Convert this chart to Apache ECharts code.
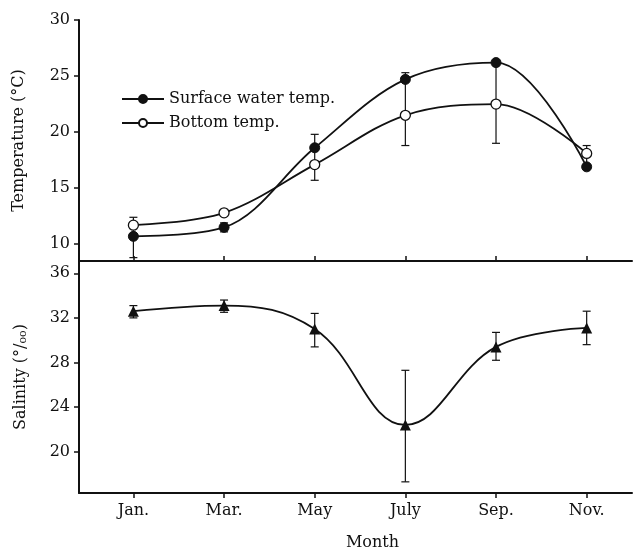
<!DOCTYPE html>
<html>
<head>
<meta charset="utf-8">
<script src="https://cdn.jsdelivr.net/npm/echarts@6/dist/echarts.min.js"></script>
<style>
    html, body { margin: 0; padding: 0; background: #fff; }
    #chartDiv { width: 638px; height: 554px; }
</style>
</head>
<body>
<div id="chartDiv"></div>
<script>
// Data
const months = [1, 3, 5, 7, 9, 11];
const monthLabels = ['Jan.', 'Mar.', 'May', 'July', 'Sep.', 'Nov.'];

const surfaceTemp = [10.7, 11.5, 18.6, 24.7, 26.2, 16.9];
const bottomTemp = [11.7, 12.8, 17.1, 21.5, 22.5, 18.1];
const tempErrLow = [8.8, 11.1, 15.7, 18.8, 19.0, 16.9];
const tempErrHigh = [12.4, 11.9, 19.8, 25.3, 26.2, 18.8];

const salinity = [32.6, 33.1, 31.0, 22.4, 29.4, 31.1];
const salErrLow = [32.0, 32.5, 29.4, 17.3, 28.2, 29.6];
const salErrHigh = [33.1, 33.6, 32.4, 27.3, 30.7, 32.6];

const tempTicks = [10, 15, 20, 25, 30];
const salTicks = [20, 24, 28, 32, 36];

const FONT = 'DejaVu Serif';
const INK = '#111';

function pairs(xs, ys) {
    return xs.map((x, i) => [x, ys[i]]);
}

function errorBar(params, api) {
    const x = api.value(0);
    const lo = api.coord([x, api.value(1)]);
    const hi = api.coord([x, api.value(2)]);
    const w = 4;
    const style = { stroke: INK, lineWidth: 1.2 };
    return {
        type: 'group',
        children: [
            { type: 'line', shape: { x1: hi[0], y1: hi[1], x2: lo[0], y2: lo[1] }, style: style },
            { type: 'line', shape: { x1: hi[0] - w, y1: hi[1], x2: hi[0] + w, y2: hi[1] }, style: style },
            { type: 'line', shape: { x1: lo[0] - w, y1: lo[1], x2: lo[0] + w, y2: lo[1] }, style: style }
        ]
    };
}

const chart = echarts.init(document.getElementById('chartDiv'), null, { renderer: 'canvas' });

const axisLine = { show: true, onZero: false, lineStyle: { color: INK, width: 2 } };
const tickLine = { color: INK, width: 1.5 };
const labelStyle = { color: INK, fontFamily: FONT, fontSize: 16 };

const option = {
    backgroundColor: '#fff',
    animation: false,
    textStyle: { fontFamily: FONT, color: INK },
    legend: {
        orient: 'vertical',
        left: 116,
        top: 86,
        itemWidth: 42,
        itemHeight: 10,
        itemGap: 8,
        data: ['Surface water temp.', 'Bottom temp.'],
        textStyle: { fontFamily: FONT, fontSize: 16, color: INK }
    },
    grid: [
        { left: 79, top: 20, right: 6, height: 241, outerBoundsMode: 'none', containLabel: false },
        { left: 79, top: 261, right: 6, height: 232, outerBoundsMode: 'none', containLabel: false }
    ],
    xAxis: [
        {
            type: 'value',
            gridIndex: 0,
            min: -0.2,
            max: 12,
            axisLine: axisLine,
            axisTick: { show: true, inside: true, length: 5, customValues: months, lineStyle: tickLine },
            axisLabel: { show: false },
            splitLine: { show: false }
        },
        {
            type: 'value',
            gridIndex: 1,
            min: -0.2,
            max: 12,
            name: 'Month',
            nameLocation: 'middle',
            nameGap: 42,
            nameTextStyle: { fontFamily: FONT, fontSize: 16, color: INK, padding: [0, 0, 0, 34] },
            axisLine: axisLine,
            axisTick: { show: true, length: 5, customValues: months, lineStyle: tickLine },
            axisLabel: Object.assign({
                margin: 10,
                customValues: months,
                formatter: v => monthLabels[months.indexOf(v)] || ''
            }, labelStyle),
            splitLine: { show: false }
        }
    ],
    yAxis: [
        {
            type: 'value',
            gridIndex: 0,
            min: 8.5,
            max: 30,
            name: 'Temperature (°C)',
            nameLocation: 'middle',
            nameGap: 52,
            nameTextStyle: { fontFamily: FONT, fontSize: 16, color: INK },
            axisLine: axisLine,
            axisTick: { show: true, length: 5, customValues: tempTicks, lineStyle: tickLine },
            axisLabel: Object.assign({ margin: 9, customValues: tempTicks }, labelStyle),
            splitLine: { show: false }
        },
        {
            type: 'value',
            gridIndex: 1,
            min: 16.3,
            max: 37.1,
            name: 'Salinity (°/{s|oo})',
            nameLocation: 'middle',
            nameGap: 50,
            nameTextStyle: {
                fontFamily: FONT, fontSize: 16, color: INK,
                rich: { s: { fontFamily: FONT, fontSize: 11, color: INK, verticalAlign: 'bottom' } }
            },
            axisLine: axisLine,
            axisTick: { show: true, length: 5, customValues: salTicks, lineStyle: tickLine },
            axisLabel: Object.assign({ margin: 9, customValues: salTicks }, labelStyle),
            splitLine: { show: false }
        }
    ],
    series: [
        {
            type: 'custom',
            name: 'tempErr',
            xAxisIndex: 0,
            yAxisIndex: 0,
            renderItem: errorBar,
            encode: { x: 0, y: [1, 2] },
            data: months.map((m, i) => [m, tempErrLow[i], tempErrHigh[i]]),
            z: 1
        },
        {
            name: 'Bottom temp.',
            type: 'line',
            xAxisIndex: 0,
            yAxisIndex: 0,
            data: pairs(months, bottomTemp),
            smooth: 0.35,
            symbol: 'circle',
            symbolSize: 10,
            itemStyle: { color: '#fff', borderColor: INK, borderWidth: 1.3 },
            lineStyle: { color: INK, width: 1.8 },
            z: 2
        },
        {
            name: 'Surface water temp.',
            type: 'line',
            xAxisIndex: 0,
            yAxisIndex: 0,
            data: pairs(months, surfaceTemp),
            smooth: 0.35,
            symbol: 'circle',
            symbolSize: 10,
            itemStyle: { color: INK, borderColor: INK, borderWidth: 1 },
            lineStyle: { color: INK, width: 1.8 },
            z: 3
        },
        {
            type: 'custom',
            name: 'salErr',
            xAxisIndex: 1,
            yAxisIndex: 1,
            renderItem: errorBar,
            encode: { x: 0, y: [1, 2] },
            data: months.map((m, i) => [m, salErrLow[i], salErrHigh[i]]),
            z: 1
        },
        {
            name: 'Salinity',
            type: 'line',
            xAxisIndex: 1,
            yAxisIndex: 1,
            data: pairs(months, salinity),
            smooth: 0.4,
            symbol: 'triangle',
            symbolSize: 11,
            itemStyle: { color: INK },
            lineStyle: { color: INK, width: 1.8 },
            z: 3
        }
    ]
};

chart.setOption(option);
</script>
</body>
</html>
